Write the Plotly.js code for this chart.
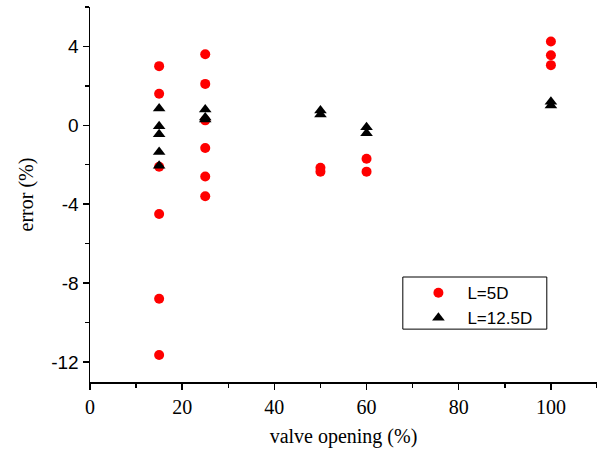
<!DOCTYPE html>
<html><head><meta charset="utf-8">
<script src="https://cdn.plot.ly/plotly-3.0.1.min.js"></script>
<style>html,body{margin:0;padding:0;background:#fff}#chart{width:597px;height:455px}</style>
</head><body><div id="chart"></div>
<script>
const seriesNames = ["L=5D", "L=12.5D"];
const x5D = [15,15,15,15,15,15, 25,25,25,25,25,25, 50,50, 60,60, 100,100,100];
const y5D = [3.0,1.6,-2.1,-4.5,-8.8,-11.65, 3.6,2.1,0.25,-1.15,-2.6,-3.6, -2.15,-2.35, -1.7,-2.35, 4.25,3.55,3.05];
const x12D = [15,15,15,15,15, 25,25,25, 50,50, 60,60, 100,100];
const y12D = [0.85,-0.05,-0.45,-1.35,-2.05, 0.8,0.4,0.3, 0.75,0.55, -0.1,-0.4, 1.2,1.0];
const yTickVals = [4,0,-4,-8,-12];
const yTickText = ["4","0","-4","-8","-12"];
const xTickVals = [0,20,40,60,80,100];
const xTickText = ["0","20","40","60","80","100"];

const traces = [
  {x:x5D, y:y5D, name:seriesNames[0], type:'scatter', mode:'markers',
   marker:{symbol:'circle', size:10, color:'#ff0000'}},
  {x:x12D, y:y12D, name:seriesNames[1], type:'scatter', mode:'markers',
   marker:{symbol:'triangle-up', size:11, color:'#000000'}}
];
const layout = {
  width:597, height:455,
  margin:{l:90, r:0, t:7, b:73},
  paper_bgcolor:'#fff', plot_bgcolor:'#fff',
  showlegend:true,
  legend:{x:0.63, y:0.285, xanchor:'left', yanchor:'top',
    borderwidth:0, bgcolor:'rgba(0,0,0,0)',
    font:{family:'Liberation Sans, Arial, sans-serif', size:17, color:'#000'},
    tracegroupgap:0, itemwidth:48},
  shapes:[{type:'rect', xref:'paper', yref:'paper', x0:0.617, x1:0.901, y0:0.141, y1:0.28,
    line:{color:'#000', width:1}, fillcolor:'rgba(0,0,0,0)', layer:'above'}],
  xaxis:{range:[0,110], showgrid:false, zeroline:false, showline:true, linecolor:'#000', linewidth:1.5,
    ticks:'outside', ticklen:6, tickwidth:1.5, tickcolor:'#000',
    tickvals:xTickVals, ticktext:xTickText,
    minor:{ticks:'outside', dtick:10, tick0:0, ticklen:4, tickwidth:1.5, tickcolor:'#000', showgrid:false},
    tickfont:{family:'Liberation Serif, Times New Roman, serif', size:20, color:'#000'},
    title:{text:'valve opening (%)', font:{family:'Liberation Serif, Times New Roman, serif', size:20, color:'#000'}, standoff:12}},
  yaxis:{range:[-13.02,6], showgrid:false, zeroline:false, showline:true, linecolor:'#000', linewidth:1.5,
    ticks:'outside', ticklen:6, tickwidth:1.5, tickcolor:'#000',
    tickvals:yTickVals, ticktext:yTickText,
    minor:{ticks:'outside', dtick:2, tick0:0, ticklen:4, tickwidth:1.5, tickcolor:'#000', showgrid:false},
    tickfont:{family:'Liberation Sans, Arial, sans-serif', size:19, color:'#000'},
    title:{text:'error (%)', font:{family:'Liberation Serif, Times New Roman, serif', size:20, color:'#000'}, standoff:12}}
};
Plotly.newPlot('chart', traces, layout, {displayModeBar:false, staticPlot:true});
</script></body></html>
